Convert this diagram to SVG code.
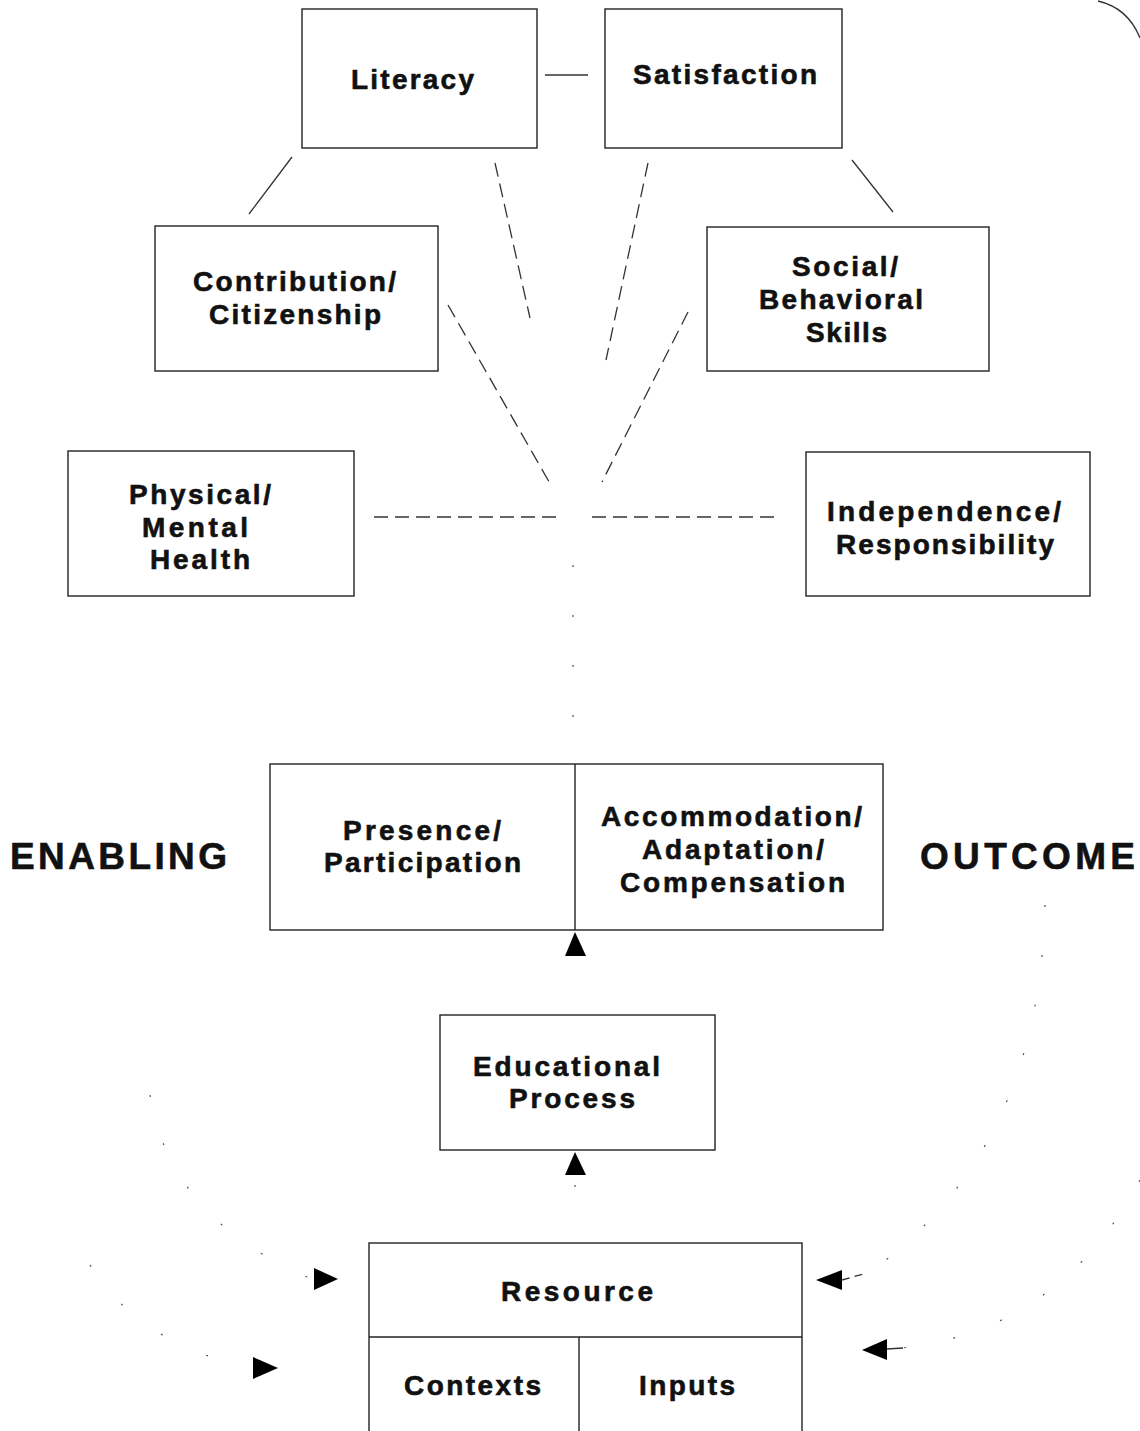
<svg xmlns="http://www.w3.org/2000/svg" width="1140" height="1431" viewBox="0 0 1140 1431">
<style>
.box{fill:none;stroke:#222;stroke-width:1.4}
.t{font-family:"Liberation Sans",Arial,sans-serif;font-weight:bold;font-size:28px;fill:#111;stroke:#111;stroke-width:0.6;text-anchor:middle}
.big{font-size:37px}
.ln{fill:none;stroke:#333;stroke-width:1.3}
.dash{stroke-dasharray:14 7}
.faint{fill:none;stroke:#555;stroke-width:1.2;stroke-dasharray:2 48}
.tri{fill:#000}
</style>
<rect width="1140" height="1431" fill="#fff"/>
<g id="connectors">
<line class="ln" x1="545" y1="75" x2="588" y2="75"/>
<line class="ln" x1="292" y1="157" x2="249" y2="214"/>
<line class="ln" x1="852" y1="160" x2="893" y2="212"/>
<line class="ln dash" x1="495" y1="163" x2="530" y2="318"/>
<line class="ln dash" x1="648" y1="163" x2="606" y2="360"/>
<line class="ln dash" x1="448" y1="305" x2="552" y2="487"/>
<line class="ln dash" x1="688" y1="312" x2="602" y2="482"/>
<line class="ln dash" x1="374" y1="517" x2="562" y2="517"/>
<line class="ln dash" x1="592" y1="517" x2="775" y2="517"/>
<line class="faint" x1="573" y1="565" x2="573" y2="752"/>
<line class="faint" x1="575" y1="1185" x2="575" y2="1235"/>
<path class="ln" d="M1098,1 Q1128,8 1140,38"/>
<path class="faint" d="M1045,905 Q1040,1150 870,1272"/>
<path class="faint" d="M1140,1180 Q1060,1330 902,1348"/>
<path class="faint" d="M150,1095 Q170,1220 312,1279"/>
<path class="faint" d="M90,1265 Q140,1345 252,1368"/>
<polygon class="tri" points="575,932 565,956 586,956"/>
<polygon class="tri" points="575,1152 565,1175 586,1175"/>
<polygon class="tri" points="338,1279 314,1268 314,1290"/>
<polygon class="tri" points="278,1368 253,1357 253,1379"/>
<polygon class="tri" points="816,1280 842,1270 842,1290"/>
<line class="ln" x1="842" y1="1280" x2="867" y2="1273" style="stroke-dasharray:8 5"/>
<polygon class="tri" points="862,1350 887,1339 887,1360"/>
<line class="ln" x1="887" y1="1349" x2="903" y2="1348"/>
</g>
<g id="literacy">
<rect class="box" x="302" y="9" width="235" height="139"/>
<text class="t" x="412.5" y="89" textLength="123">Literacy</text>
</g>
<g id="satisfaction">
<rect class="box" x="605" y="9" width="237" height="139"/>
<text class="t" x="725" y="84" textLength="184">Satisfaction</text>
</g>
<g id="contribution">
<rect class="box" x="155" y="226" width="283" height="145"/>
<text class="t" x="294.5" y="291" textLength="203">Contribution/</text>
<text class="t" x="295" y="324" textLength="172">Citizenship</text>
</g>
<g id="social">
<rect class="box" x="707" y="227" width="282" height="144"/>
<text class="t" x="845" y="276" textLength="106">Social/</text>
<text class="t" x="841" y="309" textLength="164">Behavioral</text>
<text class="t" x="846.5" y="342" textLength="81">Skills</text>
</g>
<g id="physical">
<rect class="box" x="68" y="451" width="286" height="145"/>
<text class="t" x="200" y="504" textLength="142">Physical/</text>
<text class="t" x="195" y="537" textLength="106">Mental</text>
<text class="t" x="200" y="569" textLength="100">Health</text>
</g>
<g id="independence">
<rect class="box" x="806" y="452" width="284" height="144"/>
<text class="t" x="944" y="521" textLength="234">Independence/</text>
<text class="t" x="945" y="554" textLength="218">Responsibility</text>
</g>
<g id="enabling-box">
<rect class="box" x="270" y="764" width="613" height="166"/>
<line class="box" x1="575" y1="764" x2="575" y2="930"/>
<text class="t" x="422" y="840" textLength="158">Presence/</text>
<text class="t" x="422.5" y="872" textLength="197">Participation</text>
<text class="t" x="731.5" y="826" textLength="261">Accommodation/</text>
<text class="t" x="733" y="859" textLength="182">Adaptation/</text>
<text class="t" x="732.5" y="892" textLength="225">Compensation</text>
</g>
<g id="enabling-label">
<text class="t big" x="118.5" y="869" textLength="217">ENABLING</text>
</g>
<g id="outcome-label">
<text class="t big" x="1027.5" y="869" textLength="215">OUTCOME</text>
</g>
<g id="educational">
<rect class="box" x="440" y="1015" width="275" height="135"/>
<text class="t" x="566.5" y="1076" textLength="187">Educational</text>
<text class="t" x="572" y="1108" textLength="126">Process</text>
</g>
<g id="resource">
<rect class="box" x="369" y="1243" width="433" height="200"/>
<line class="box" x1="369" y1="1337" x2="802" y2="1337"/>
<line class="box" x1="579" y1="1337" x2="579" y2="1431"/>
<text class="t" x="577" y="1301" textLength="152">Resource</text>
<text class="t" x="472.5" y="1395" textLength="137">Contexts</text>
<text class="t" x="687" y="1395" textLength="96">Inputs</text>
</g>
</svg>
